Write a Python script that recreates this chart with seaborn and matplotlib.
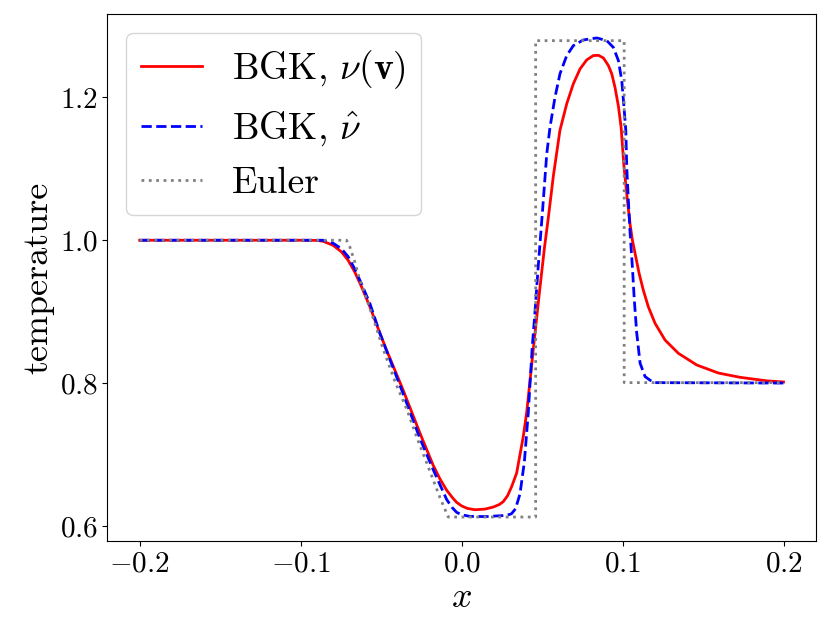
import matplotlib
matplotlib.use("Agg")
import matplotlib.pyplot as plt
import seaborn as sns
import pandas as pd

# --- data ---
x_bgk_nu = [-0.2, -0.1, -0.09, -0.0861, -0.0799, -0.0746, -0.0705, -0.0664, -0.0622,
            -0.057, -0.0508, -0.0466, -0.0363, -0.0259, -0.0177, -0.0135, -0.0093,
            -0.0055, -0.0031, 0.0, 0.0035, 0.0083, 0.0145, 0.0197, 0.0235, 0.0259,
            0.0285, 0.0311, 0.0342, 0.0383, 0.0404, 0.0447, 0.0485, 0.0515, 0.0539,
            0.057, 0.0611, 0.0653, 0.0694, 0.0736, 0.0777, 0.0818, 0.085, 0.0881,
            0.0912, 0.0933, 0.0953, 0.0974, 0.0991, 0.1009, 0.103, 0.1047, 0.1061,
            0.1082, 0.1103, 0.1129, 0.116, 0.1202, 0.1264, 0.1347, 0.1461, 0.1596,
            0.1731, 0.19, 0.2]
t_bgk_nu = [1.0, 1.0, 0.9998, 0.9986, 0.993, 0.9837, 0.972, 0.9557, 0.935,
            0.907, 0.870, 0.846, 0.790, 0.730, 0.685, 0.666, 0.650,
            0.639, 0.633, 0.628, 0.6245, 0.6226, 0.6235, 0.6264, 0.630, 0.634,
            0.642, 0.655, 0.674, 0.725, 0.758, 0.851, 0.930, 0.990, 1.032,
            1.090, 1.154, 1.191, 1.219, 1.240, 1.2525, 1.2586, 1.259, 1.2553,
            1.2446, 1.233, 1.214, 1.188, 1.158, 1.1025, 1.056, 1.022, 1.0,
            0.9767, 0.9534, 0.930, 0.9068, 0.8836, 0.8602, 0.8416, 0.8253, 0.814,
            0.808, 0.803, 0.8015]

x_bgk_hat = [-0.2, -0.09, -0.0861, -0.0799, -0.0746, -0.0705, -0.0664, -0.0622,
             -0.057, -0.0508, -0.0466, -0.0363, -0.026, -0.0177, -0.0093, -0.006,
             -0.0031, 0.0, 0.0052, 0.015, 0.028, 0.031, 0.0335, 0.0363, 0.039,
             0.0414, 0.0439, 0.0456, 0.0475, 0.0504, 0.0529, 0.0549, 0.058, 0.0611,
             0.0653, 0.0694, 0.0756, 0.084, 0.0902, 0.0943, 0.0974, 0.0995, 0.1009,
             0.102, 0.1026, 0.1036, 0.1047, 0.1061, 0.1073, 0.1088, 0.1109, 0.114,
             0.1192, 0.2]
t_bgk_hat = [1.0, 1.0, 1.0, 0.996, 0.988, 0.977, 0.960, 0.939,
             0.9115, 0.870, 0.845, 0.785, 0.723, 0.679, 0.637, 0.626,
             0.619, 0.6155, 0.6133, 0.613, 0.6147, 0.617, 0.624, 0.645, 0.690,
             0.758, 0.851, 0.900, 0.960, 1.045, 1.121, 1.158, 1.200, 1.233,
             1.2586, 1.2725, 1.2805, 1.2833, 1.2795, 1.270, 1.2516, 1.2236, 1.186,
             1.154, 1.1025, 1.056, 1.009, 0.9627, 0.916, 0.870, 0.8277, 0.809,
             0.8006, 0.8]

x_euler = [-0.2, -0.0715, -0.0695, -0.0664, -0.0632, -0.0601, -0.0545, -0.0488,
           -0.041, -0.034, -0.0275, -0.0208, -0.0135, -0.0083, 0.046, 0.046,
           0.101, 0.101, 0.2]
t_euler = [1.0, 1.0, 0.991, 0.970, 0.944, 0.925, 0.888, 0.848,
           0.800, 0.763, 0.722, 0.683, 0.640, 0.6124, 0.6124, 1.2795,
           1.2795, 0.8006, 0.8006]

labels = [r"BGK, $\nu(\mathbf{v})$", r"BGK, $\hat{\nu}$", "Euler"]

plt.rcParams["font.family"] = "serif"
plt.rcParams["font.serif"] = ["cmr10"]
plt.rcParams["mathtext.fontset"] = "cm"
plt.rcParams["axes.formatter.use_mathtext"] = True

fig, ax = plt.subplots(figsize=(8.3, 6.39), dpi=100)
fig.subplots_adjust(left=0.1295, right=0.9828, top=0.9781, bottom=0.1534)

df1 = pd.DataFrame({"x": x_bgk_nu, "T": t_bgk_nu})
df2 = pd.DataFrame({"x": x_bgk_hat, "T": t_bgk_hat})
df3 = pd.DataFrame({"x": x_euler, "T": t_euler})

sns.lineplot(data=df1, x="x", y="T", estimator=None, sort=False, ax=ax,
             color="red", linestyle="-", linewidth=2, label=labels[0])
sns.lineplot(data=df2, x="x", y="T", estimator=None, sort=False, ax=ax,
             color="blue", linestyle="--", linewidth=2, label=labels[1])
sns.lineplot(data=df3, x="x", y="T", estimator=None, sort=False, ax=ax,
             color="gray", linestyle=":", linewidth=2, label=labels[2])

ax.set_xticks([-0.2, -0.1, 0.0, 0.1, 0.2])
ax.set_yticks([0.6, 0.8, 1.0, 1.2])
ax.tick_params(labelsize=21)
ax.set_xlabel(r"$x$", fontsize=26)
ax.set_ylabel("temperature", fontsize=26)
ax.legend(loc="upper left", fontsize=27, handlelength=1.63)

fig.savefig("out.png", dpi=100)
